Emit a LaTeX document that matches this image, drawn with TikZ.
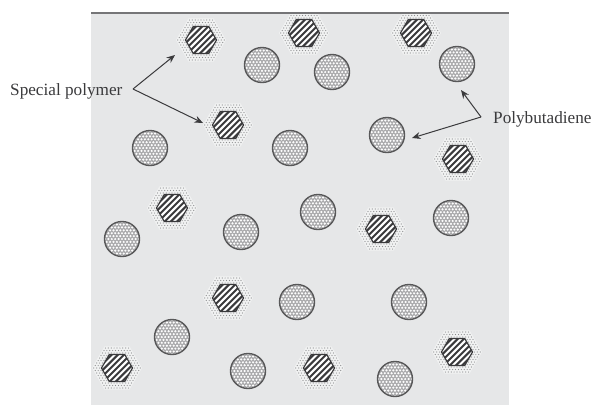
\documentclass[tikz,border=0pt]{standalone}
\usepackage{fontspec}
\setmainfont{Liberation Serif}
\usetikzlibrary{shapes.geometric,arrows.meta}
\definecolor{panel}{HTML}{E6E7E8}
\definecolor{ink}{HTML}{3A3A3C}
\definecolor{dotgrey}{HTML}{8C8D8F}
\tikzset{
  rubber/.style={circle,draw=ink!85,line width=1.4pt,minimum size=35pt,inner sep=0pt,outer sep=0pt,fill=dotgrey!75,
    path picture={\begin{scope}[shift={(path picture bounding box.center)}]
      \foreach \i in {-5,...,5}{\foreach \j in {-6,...,6}{
        \pgfmathsetmacro{\px}{\i*3.4+mod(\j+12,2)*1.7}
        \fill[white!92!panel] (\px pt,\j*2.9pt) circle (1.2pt);}}
    \end{scope}}},
  halo/.style={regular polygon,regular polygon sides=6,minimum size=50pt,inner sep=0pt,outer sep=0pt,fill=white!45!panel,
    path picture={\begin{scope}[shift={(path picture bounding box.center)}]
      \foreach \i in {-9,...,9}{\foreach \j in {-9,...,9}{
        \pgfmathsetmacro{\px}{\i*2.9+mod(\j+18,2)*1.45}
        \fill[dotgrey] (\px pt,\j*2.5pt) circle (0.6pt);}}
    \end{scope}}},
  hatched/.style={regular polygon,regular polygon sides=6,minimum size=31pt,inner sep=0pt,outer sep=0pt,draw=ink,line width=1.2pt,fill=white,
    path picture={\begin{scope}[shift={(path picture bounding box.center)}]
      \foreach \k in {-5,...,5}{
        \draw[ink,line width=2pt] (\k*6.2pt-20pt,-20pt) -- (\k*6.2pt+20pt,20pt);}
    \end{scope}}},
  lbl/.style={inner sep=0pt,text=ink,font=\fontsize{17.2}{19}\selectfont},
  lead/.style={ink,line width=1pt,-{Stealth[length=8.5pt,width=7pt]}}
}
\newcommand{\hexat}[2]{\node[halo] (h#1) at (#2) {}; \node[hatched] (x#1) at (#2) {};}
\begin{document}
\begin{tikzpicture}[x=1pt,y=-1pt]
\useasboundingbox (0,0) rectangle (592,405);
\fill[white] (0,0) rectangle (592,405);
\fill[panel] (91,13) rectangle (509,405);
\begin{scope}
\clip (91,13) rectangle (509,405);
\hexat{a}{201,40}
\hexat{b}{304,33}
\hexat{c}{416,33}
\hexat{d}{228,125}
\hexat{e}{458,159}
\hexat{f}{172,208}
\hexat{g}{381,229}
\hexat{h}{228,298}
\hexat{i}{117,368}
\hexat{j}{319,368}
\hexat{k}{457,352}
\end{scope}
\draw[ink!70,line width=1.5pt] (91,13) -- (509,13);
\node[rubber] (c1) at (262,65) {};
\node[rubber] (c2) at (332,72) {};
\node[rubber] (c3) at (457,64) {};
\node[rubber] (c4) at (150,148) {};
\node[rubber] (c5) at (290,148) {};
\node[rubber] (c6) at (387,135) {};
\node[rubber] (c7) at (122,239) {};
\node[rubber] (c8) at (241,232) {};
\node[rubber] (c9) at (318,212) {};
\node[rubber] (c10) at (451,218) {};
\node[rubber] (c11) at (297,302) {};
\node[rubber] (c12) at (409,302) {};
\node[rubber] (c13) at (172,337) {};
\node[rubber] (c14) at (248,371) {};
\node[rubber] (c15) at (395,379) {};
\node[lbl,anchor=west] (sp) at (10,91) {Special polymer};
\node[lbl,anchor=west] (pb) at (493,119) {Polybutadiene};
\coordinate (spj) at (133,89);
\coordinate (pbj) at (481,117);
\coordinate (sa) at (175,55);
\coordinate (sd) at (203,123);
\coordinate (pc) at (461,90);
\coordinate (pd) at (412,138);
\draw[lead] (spj) -- (sa);
\draw[lead] (spj) -- (sd);
\draw[lead] (pbj) -- (pc);
\draw[lead] (pbj) -- (pd);
\end{tikzpicture}
\end{document}
